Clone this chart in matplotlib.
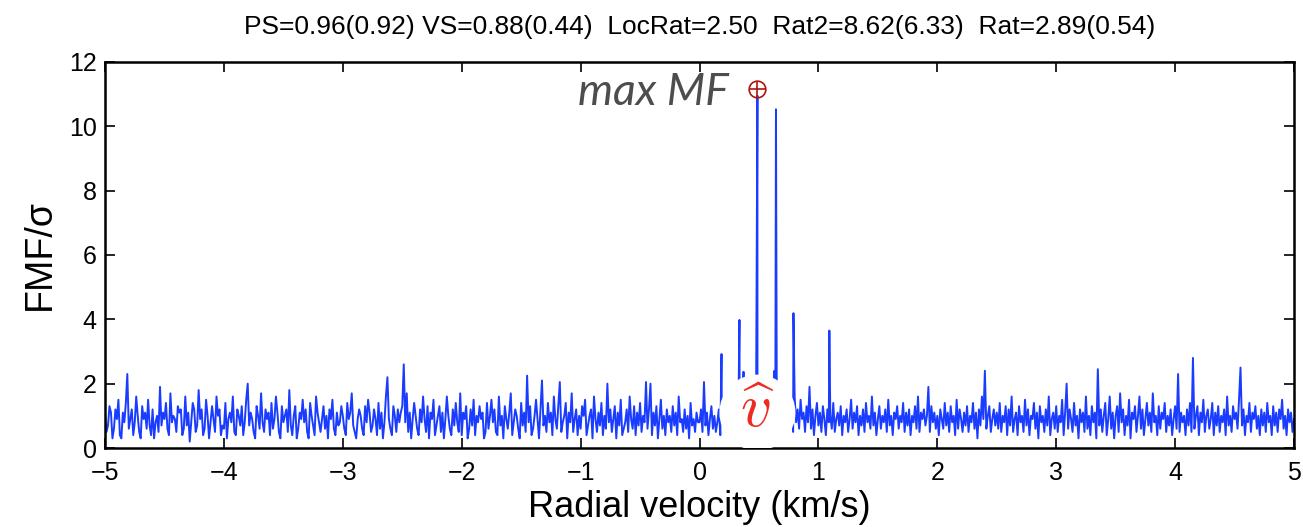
import numpy as np
import matplotlib
matplotlib.use("Agg")
import matplotlib.pyplot as plt

# filtered matched-filter output, normalised by sigma, on a uniform velocity grid
noise_a = [1.0, 0.5, 0.7, 1.3, 1.1, 0.3, 0.6, 1.2, 0.9, 1.5, 0.4, 0.3, 1.1, 0.8, 1.4, 2.3, 0.6, 0.9, 1.2, 0.4,
           0.8, 1.6, 1.0, 0.5, 0.3, 1.3, 0.9, 1.1, 0.6, 1.5, 0.7, 0.4, 1.2, 0.3, 0.8, 1.0, 0.5, 1.9, 0.7, 1.1,
           0.9, 1.4, 0.6, 0.4, 1.7, 0.8, 1.0, 0.9, 0.5, 1.3, 1.1, 1.2, 0.4, 0.6, 1.6, 0.7, 1.1, 0.2, 0.8, 1.4,
           1.2, 0.5, 0.7, 1.8, 0.9, 1.2, 0.4, 0.6, 1.5, 1.0, 0.3, 0.8, 1.3, 0.9, 0.5, 1.6, 1.0, 1.2, 0.4, 0.7,
           0.6, 1.4, 0.3, 0.9, 1.1, 0.8, 1.6, 0.5, 0.4, 1.2, 1.0, 0.7, 1.3, 0.4, 0.8, 1.5, 2.0, 0.7, 1.1, 0.9,
           0.5, 0.3, 1.3, 1.0, 0.6, 1.7, 0.8, 0.5, 1.2, 0.9, 1.1, 0.4, 1.4, 0.6, 0.9, 1.6, 1.1, 0.5, 0.3, 1.3,
           0.8, 1.0, 1.2, 0.5, 1.8, 0.7, 0.4, 1.0, 1.3, 0.3, 0.6, 1.1, 0.9, 1.5, 0.8, 1.2, 0.5, 0.3, 1.4, 1.0,
           0.7, 0.4, 1.6, 1.1, 0.8, 0.5, 0.9, 1.3, 0.6, 1.0, 0.3, 1.2, 0.9, 1.5, 0.6, 0.4, 1.1, 0.7, 0.8, 1.3,
           1.0, 0.6, 0.4, 1.4, 0.9, 1.1, 1.7, 0.7, 0.5, 0.3, 0.9, 1.2, 1.0, 0.6, 0.4, 1.3, 0.8, 1.5, 1.1, 0.5,
           0.7, 1.2, 0.9, 0.4, 1.4, 0.6, 1.1, 0.3, 0.8, 1.6, 2.2, 0.9, 0.6, 0.4, 1.3, 1.0, 0.5, 1.2, 0.8, 1.1]
noise_b = [1.3, 2.6, 0.8, 1.7, 0.5, 1.1, 0.3, 0.9, 1.4, 1.0, 0.6, 0.4, 1.2, 0.8, 1.6, 0.9, 0.5, 1.3, 0.3, 1.1,
           0.9, 1.5, 0.4, 0.7, 1.0, 1.3, 0.5, 1.1, 0.3, 0.9, 1.6, 1.0, 0.6, 0.4, 1.2, 0.7, 1.4, 0.8, 0.5, 1.7,
           0.4, 1.1, 0.9, 1.3, 0.3, 0.6, 1.2, 0.7, 1.5, 0.4, 1.0, 0.8, 1.3, 0.9, 1.1, 0.3, 0.5, 1.4, 0.6, 1.0,
           1.5, 0.8, 1.2, 0.5, 0.4, 1.6, 0.7, 1.0, 0.3, 1.3, 0.9, 0.6, 1.1, 1.7, 0.4, 0.8, 1.2, 1.0, 0.6, 0.3,
           1.4, 0.7, 1.1, 0.5, 2.25, 0.8, 1.3, 0.4, 0.6, 1.0, 1.5, 0.9, 0.3, 1.2, 2.1, 0.7, 1.0, 0.5, 1.4, 0.8,
           1.1, 0.4, 1.6, 0.9, 0.6, 1.3, 2.05, 0.5, 0.8, 1.0, 1.4, 0.3, 1.1, 0.8, 1.7, 0.5, 0.9, 1.2, 0.4, 1.0,
           0.6, 1.3, 1.0, 1.5, 0.4, 0.7, 1.0, 1.2, 0.3, 1.6, 0.9, 0.5, 1.1, 0.7, 1.4, 0.4, 1.0, 0.6, 2.0, 0.8,
           1.2, 0.5, 0.9, 1.3, 0.3, 1.1, 0.7, 1.5, 0.4, 0.6, 0.8, 1.2, 0.5, 1.6, 0.9, 0.6, 1.3, 0.4, 1.1, 0.7,
           1.4, 0.5, 1.0, 0.8, 2.05, 0.6, 1.2, 2.0, 0.4, 1.1, 0.7, 1.3, 0.3, 0.9, 1.5, 0.6, 1.0, 0.4, 1.2, 0.8,
           1.0, 0.5, 1.3, 0.7, 1.1, 0.4, 1.6, 0.8, 0.9, 0.5, 1.2, 0.6, 1.0, 0.3, 1.4, 0.7, 0.9, 0.5, 1.1, 0.8]
noise_c = [0.8, 1.2, 0.5, 2.05, 0.7, 1.1, 0.4, 0.9, 1.3, 0.6, 1.0, 0.5, 0.8, 1.2, 0.4, 0.9, 0.7, 1.1, 0.5, 0.8,
           1.0, 0.6, 1.3, 0.4, 0.9, 1.1, 0.5, 0.8, 1.2, 0.6, 1.0, 0.4, 0.9, 1.3, 0.7, 1.0, 0.5, 1.1, 0.8, 0.6,
           1.2, 0.5, 0.9, 1.4, 0.6, 1.0, 0.4, 1.1, 0.8, 1.3, 0.5, 0.9, 1.2, 0.7, 1.0, 0.4, 1.1, 0.8, 1.4, 0.6,
           1.7, 0.9, 1.3, 0.5, 1.6, 0.8, 1.2, 0.6, 1.5, 0.9, 1.1, 0.5, 1.3, 0.8, 1.9, 0.6, 1.2, 0.4, 1.0, 1.4,
           0.7, 1.1, 0.5, 1.3, 0.9, 0.4, 1.2, 0.8, 1.0, 0.6, 1.4, 0.5, 0.9, 1.1, 0.7, 1.3, 0.4, 1.0, 0.8, 1.2,
           0.5, 0.9, 1.5, 0.6, 1.1, 0.8, 1.3, 0.4, 1.0, 0.7, 1.2, 0.5, 1.4, 0.8, 1.0, 0.6, 1.6, 0.7, 1.1, 0.4,
           0.9, 1.3, 0.6, 1.0, 0.8, 1.2, 0.5, 1.5, 0.7, 1.0, 0.4, 1.1, 0.9, 1.3, 0.6, 1.0, 0.8, 1.4, 0.5, 1.1,
           0.7, 1.2, 0.4, 1.0, 0.8, 1.3, 0.6, 1.6, 0.5, 1.1, 0.9, 1.2, 0.7, 1.0, 1.9, 0.5, 1.3, 0.8, 1.1, 0.6,
           1.0, 0.4, 1.2, 0.9, 0.6, 1.4, 0.7, 1.1, 0.5, 1.3, 0.8, 1.0, 0.4, 1.5, 0.6, 1.2, 0.9, 0.5, 1.1, 0.7,
           1.3, 0.5, 1.0, 0.8, 1.4, 0.6, 1.1, 0.3, 1.2, 0.7, 1.6, 0.9, 2.4, 0.6, 1.0, 1.3, 0.5, 0.9, 1.2, 0.7]
noise_d = [1.1, 0.6, 1.4, 0.5, 1.0, 0.8, 1.3, 0.4, 1.2, 0.7, 1.6, 0.5, 0.9, 1.1, 0.4, 1.3, 0.8, 1.0, 0.5, 1.5,
           0.7, 1.2, 0.4, 1.0, 0.9, 1.4, 0.6, 1.1, 0.3, 1.3, 0.8, 1.0, 0.5, 1.2, 0.7, 1.6, 0.4, 0.9, 1.1, 0.6,
           1.3, 0.5, 1.0, 0.8, 1.5, 0.4, 1.1, 2.0, 0.6, 1.2, 0.9, 0.5, 1.4, 0.7, 1.0, 0.3, 1.2, 0.8, 1.1, 0.5,
           1.6, 0.6, 1.0, 0.4, 1.3, 0.8, 1.1, 0.3, 2.45, 0.7, 1.2, 0.5, 1.0, 1.4, 0.4, 0.9, 1.6, 0.6, 1.1, 0.3,
           1.0, 1.3, 0.5, 1.7, 0.8, 1.2, 0.4, 1.0, 0.7, 1.5, 0.3, 1.1, 0.9, 1.3, 0.5, 1.0, 1.6, 0.6, 1.2, 0.4,
           0.9, 1.4, 0.7, 1.1, 0.5, 1.7, 0.8, 1.0, 0.4, 1.3, 0.6, 1.1, 0.9, 1.4, 0.5, 1.0, 0.7, 1.2, 0.4, 0.9,
           1.3, 0.6, 2.3, 0.5, 1.1, 0.8, 1.0, 0.4, 1.2, 0.7, 1.4, 0.5, 2.8, 0.6, 1.0, 1.3, 0.4, 1.1, 0.8, 1.5,
           0.5, 1.0, 1.2, 0.6, 0.9, 1.4, 0.4, 1.1, 0.7, 1.3, 0.5, 1.0, 0.8, 1.2, 0.4, 1.6, 0.7, 1.0, 0.5, 1.3,
           0.9, 1.1, 0.6, 1.5, 2.5, 0.7, 1.2, 0.4, 1.0, 0.8, 1.4, 0.5, 1.1, 0.9, 1.3, 0.6, 1.0, 0.4, 1.2, 0.7,
           1.1, 0.5, 1.4, 0.8, 1.0, 0.4, 1.3, 0.7, 1.1, 0.5, 1.2, 0.9, 1.5, 0.6, 1.0, 0.4, 1.2, 0.8, 1.1, 0.5, 0.9]

# narrow peaks of the matched filter
spike_v = [0.185, 0.336, 0.37, 0.487, 0.63, 0.643, 0.79, 1.092]
spike_h = [2.92, 3.98, 2.37, 10.95, 2.4, 10.53, 4.19, 3.65]

max_v, max_h = 0.487, 11.15
vhat_v, vhat_h = 0.487, 1.1

title = "PS=0.96(0.92) VS=0.88(0.44)  LocRat=2.50  Rat2=8.62(6.33)  Rat=2.89(0.54)"

noise = np.array(noise_a + noise_b + noise_c + noise_d)
v_grid = np.linspace(-5, 5, len(noise))
v = np.concatenate([v_grid, spike_v])
h = np.concatenate([noise, spike_h])
order = np.argsort(v, kind="stable")
v, h = v[order], h[order]

plt.rcParams["font.family"] = ["Liberation Sans", "DejaVu Sans"]

fig = plt.figure(figsize=(13.03, 5.27), dpi=100)
ax = fig.add_axes([0.0806, 0.1499, 0.9125, 0.7325])

ax.plot(v, h, color="#1a3cff", lw=1.4, zorder=2)

# white disc behind the estimated velocity
ax.scatter([vhat_v], [vhat_h], s=3000, color="white", edgecolors="none", zorder=3)
ax.text(vhat_v, vhat_h + 0.05, r"$\widehat{v}$", color="#ee2a24", fontsize=44,
        ha="center", va="center", math_fontfamily="cm", zorder=4)

ax.plot([max_v], [max_h], marker="o", ms=12, mfc="none", mec="#b0140f", mew=1.2, zorder=4)
ax.plot([max_v], [max_h], marker="+", ms=12, mec="#b0140f", mew=1.2, zorder=4)
ax.text(0.25, 10.66, "max MF", color="#4d4d4d", fontsize=32, style="italic",
        family="Lato", ha="right", va="baseline")

ax.set_xlim(-5, 5)
ax.set_ylim(0, 12)
ax.set_xticks(range(-5, 6))
ax.set_xticklabels([str(t).replace("-", "\u2212") for t in range(-5, 6)])
ax.set_yticks(range(0, 13, 2))
ax.tick_params(direction="in", length=7, width=1.2, labelsize=18, top=True, right=True)
ax.tick_params(axis="x", pad=9)
ax.tick_params(axis="y", pad=6)
for s in ax.spines.values():
    s.set_linewidth(1.8)

ax.set_xlabel("Radial velocity (km/s)", fontsize=26, labelpad=4)
ax.set_ylabel("FMF/\u03c3", fontsize=27, labelpad=8)
ax.set_title(title, fontsize=19, pad=20)

fig.savefig("out.png", dpi=100)
